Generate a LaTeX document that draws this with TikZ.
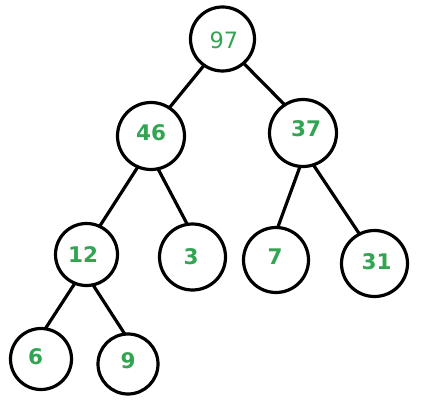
\documentclass[tikz,border=0pt]{standalone}
\usepackage{fontspec}
\setmainfont{DejaVu Sans}
\definecolor{numgreen}{RGB}{50,164,82}
\begin{document}
\begin{tikzpicture}[x=1pt,y=-1pt,
  ring/.style={circle,draw=black,line width=3.2pt,minimum size=#1,inner sep=0pt,outer sep=0pt},
  num/.style={text=numgreen,font=\fontsize{21.5}{21.5}\selectfont\bfseries,inner sep=0pt},
  numlight/.style={text=numgreen,font=\fontsize{22.5}{22.5}\selectfont,inner sep=0pt},
  edge/.style={line width=3.2pt,line cap=round}]
\useasboundingbox[fill=white] (0,0) rectangle (427,403);
% circles
\node[ring=64pt] (n97) at (222.5,39) {};
\node[ring=67pt] (n46) at (151,136) {};
\node[ring=67pt] (n37) at (303,133) {};
\node[ring=62pt] (n12) at (86.5,254.5) {};
\node[ring=66pt] (n3) at (192.5,257) {};
\node[ring=65pt] (n7) at (276,260) {};
\node[ring=66pt] (n31) at (374.5,263.5) {};
\node[ring=61pt] (n6) at (41,359) {};
\node[ring=60pt] (n9) at (128,364) {};
% labels
\node[numlight] (t97) at (224,40) {97};
\node[num] (t46) at (151,133) {46};
\node[num] (t37) at (306,129) {37};
\node[num] (t12) at (83,255) {12};
\node[num] (t3) at (191,256.5) {3};
\node[num] (t7) at (275,256.5) {7};
\node[num] (t31) at (376.5,261.5) {31};
\node[num] (t6) at (35.5,356.5) {6};
\node[num] (t9) at (128,361) {9};
% edges
\draw[edge] (n97.235) -- (n46.57);
\draw[edge] (n97.311) -- (n37.123);
\draw[edge] (n46.247) -- (n12.65);
\draw[edge] (n46.282) -- (n3.99);
\draw[edge] (n37.265) -- (n7.87);
\draw[edge] (n37.288) -- (n31.117);
\draw[edge] (n12.248) -- (n6.82);
\draw[edge] (n12.282) -- (n9.96);
\end{tikzpicture}
\end{document}
